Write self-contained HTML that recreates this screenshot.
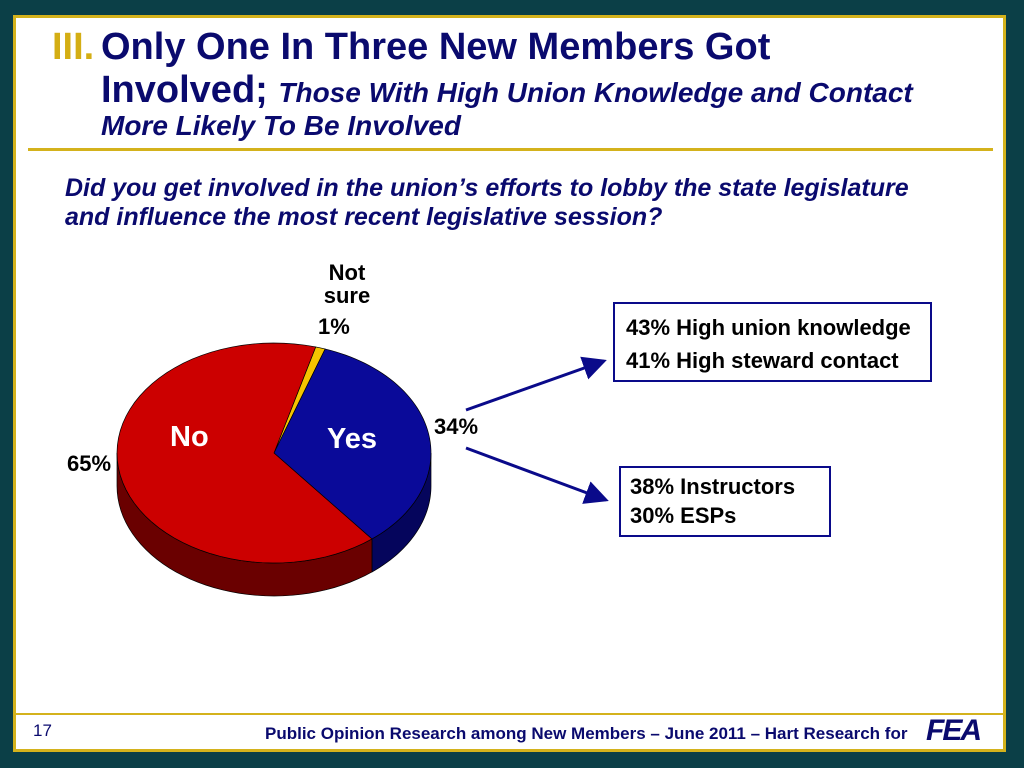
<!DOCTYPE html>
<html><head><meta charset="utf-8"><style>
body{margin:0;width:1024px;height:768px;background:#0b3f47;position:relative;overflow:hidden;font-family:"Liberation Sans",Arial,sans-serif}
.abs{position:absolute;white-space:nowrap}
#panel{left:13px;top:15px;width:993px;height:737px;background:#fff;border:3px solid #d4b21c;box-sizing:border-box}
.t{color:#0a0a6e;font-weight:bold}
</style></head><body>
<div id="panel" class="abs"></div>
<div class="abs t" style="left:52px;top:26px;font-size:38px;line-height:42px;color:#d4ae14">III.</div>
<div class="abs t" style="left:101px;top:26px;font-size:38px;line-height:42px">Only One In Three New Members Got</div>
<div class="abs t" style="left:101px;top:69px;font-size:38px;line-height:42px">Involved; <i style="font-size:28px">Those With High Union Knowledge and Contact</i></div>
<div class="abs t" style="left:101px;top:110px;font-size:28px;line-height:32px;font-style:italic">More Likely To Be Involved</div>
<div class="abs" style="left:28px;top:148px;width:965px;height:3px;background:#d4b21c"></div>
<div class="abs t" style="left:65px;top:174px;font-size:25px;line-height:29px;font-style:italic">Did you get involved in the union’s efforts to lobby the state legislature<br>and influence the most recent legislative session?</div>

<svg class="abs" style="left:0;top:0" width="1024" height="768">
<g id="pie"></g>
<defs><marker id="ah" markerWidth="8" markerHeight="8" refX="7" refY="4" orient="auto"><path d="M0,0 L8,4 L0,8 z" fill="#0a0a8a"/></marker></defs>
<line x1="466" y1="410" x2="604" y2="361" stroke="#0a0a8a" stroke-width="3" marker-end="url(#ah)"/>
<line x1="466" y1="448" x2="606" y2="500" stroke="#0a0a8a" stroke-width="3" marker-end="url(#ah)"/>
</svg>
<div class="abs" style="left:297px;top:261px;width:100px;text-align:center;font-size:22px;font-weight:bold;line-height:23px">Not<br>sure</div>
<div class="abs" style="left:318px;top:314px;font-size:22px;font-weight:bold">1%</div>
<div class="abs" style="left:434px;top:414px;font-size:22px;font-weight:bold">34%</div>
<div class="abs" style="left:67px;top:451px;font-size:22px;font-weight:bold">65%</div>
<div class="abs" style="left:170px;top:421px;font-size:29px;font-weight:bold;color:#fff">No</div>
<div class="abs" style="left:327px;top:423px;font-size:29px;font-weight:bold;color:#fff">Yes</div>
<div class="abs" style="left:613px;top:302px;width:319px;height:80px;border:2px solid #0a0a8a;box-sizing:border-box;padding:7px 0 0 11px;font-size:22px;font-weight:bold;line-height:33px">43% High union knowledge<br>41% High steward contact</div>
<div class="abs" style="left:619px;top:466px;width:212px;height:71px;border:2px solid #0a0a8a;box-sizing:border-box;padding:4px 0 0 9px;font-size:22px;font-weight:bold;line-height:29px">38% Instructors<br>30% ESPs</div>
<div class="abs" style="left:16px;top:713px;width:988px;height:2px;background:#d4b21c"></div>
<div class="abs" style="left:33px;top:721px;font-size:17px;color:#0a0a6e">17</div>
<div class="abs" style="left:265px;top:724px;font-size:17px;font-weight:bold;color:#0a0a6e">Public Opinion Research among New Members – June 2011 – Hart Research for</div>
<div class="abs" style="left:926px;top:714px;font-size:30px;font-weight:bold;font-style:italic;color:#0a0a6e;letter-spacing:-2px">FEA</div>
<script>
const categories=["Not sure","Yes","No"];
const values=[1,34,65];
const topColors=["#f4c400","#0a0a99","#cc0000"];
const sideColors=["#8a7000","#05055c","#6a0000"];
const cx=274,cy=453,rx=157,ry=110,depth=33,start=15.4;
const g=document.getElementById('pie');
const NS="http://www.w3.org/2000/svg";
function pt(a,dy){const r=a*Math.PI/180;return [cx+rx*Math.sin(r),cy-ry*Math.cos(r)+(dy||0)];}
const total=values.reduce((a,b)=>a+b,0);
let a=start;const slices=[];
values.forEach((v,i)=>{const s=a,e=a+v/total*360;slices.push([s,e,i]);a=e;});
slices.forEach(([s,e,i])=>{
  for(const off of [0,360]){
    const s2=Math.max(s,90+off),e2=Math.min(e,270+off);
    if(e2<=s2)continue;
    let d="";const n=40;
    for(let k=0;k<=n;k++){const p=pt(s2+(e2-s2)*k/n);d+=(k?"L":"M")+p[0]+","+p[1];}
    for(let k=n;k>=0;k--){const p=pt(s2+(e2-s2)*k/n,depth);d+="L"+p[0]+","+p[1];}
    const path=document.createElementNS(NS,'path');
    path.setAttribute('d',d+"Z");path.setAttribute('fill',sideColors[i]);path.setAttribute('stroke','#000');path.setAttribute('stroke-width','0.7');
    
    
    g.appendChild(path);
  }
});
slices.forEach(([s,e,i])=>{
  let d="M"+cx+","+cy;const n=60;
  for(let k=0;k<=n;k++){const p=pt(s+(e-s)*k/n);d+="L"+p[0]+","+p[1];}
  const path=document.createElementNS(NS,'path');
  path.setAttribute('d',d+"Z");path.setAttribute('fill',topColors[i]);path.setAttribute('stroke','#000');path.setAttribute('stroke-width','0.7');
  
  
  g.appendChild(path);
});
</script>
</body></html>
